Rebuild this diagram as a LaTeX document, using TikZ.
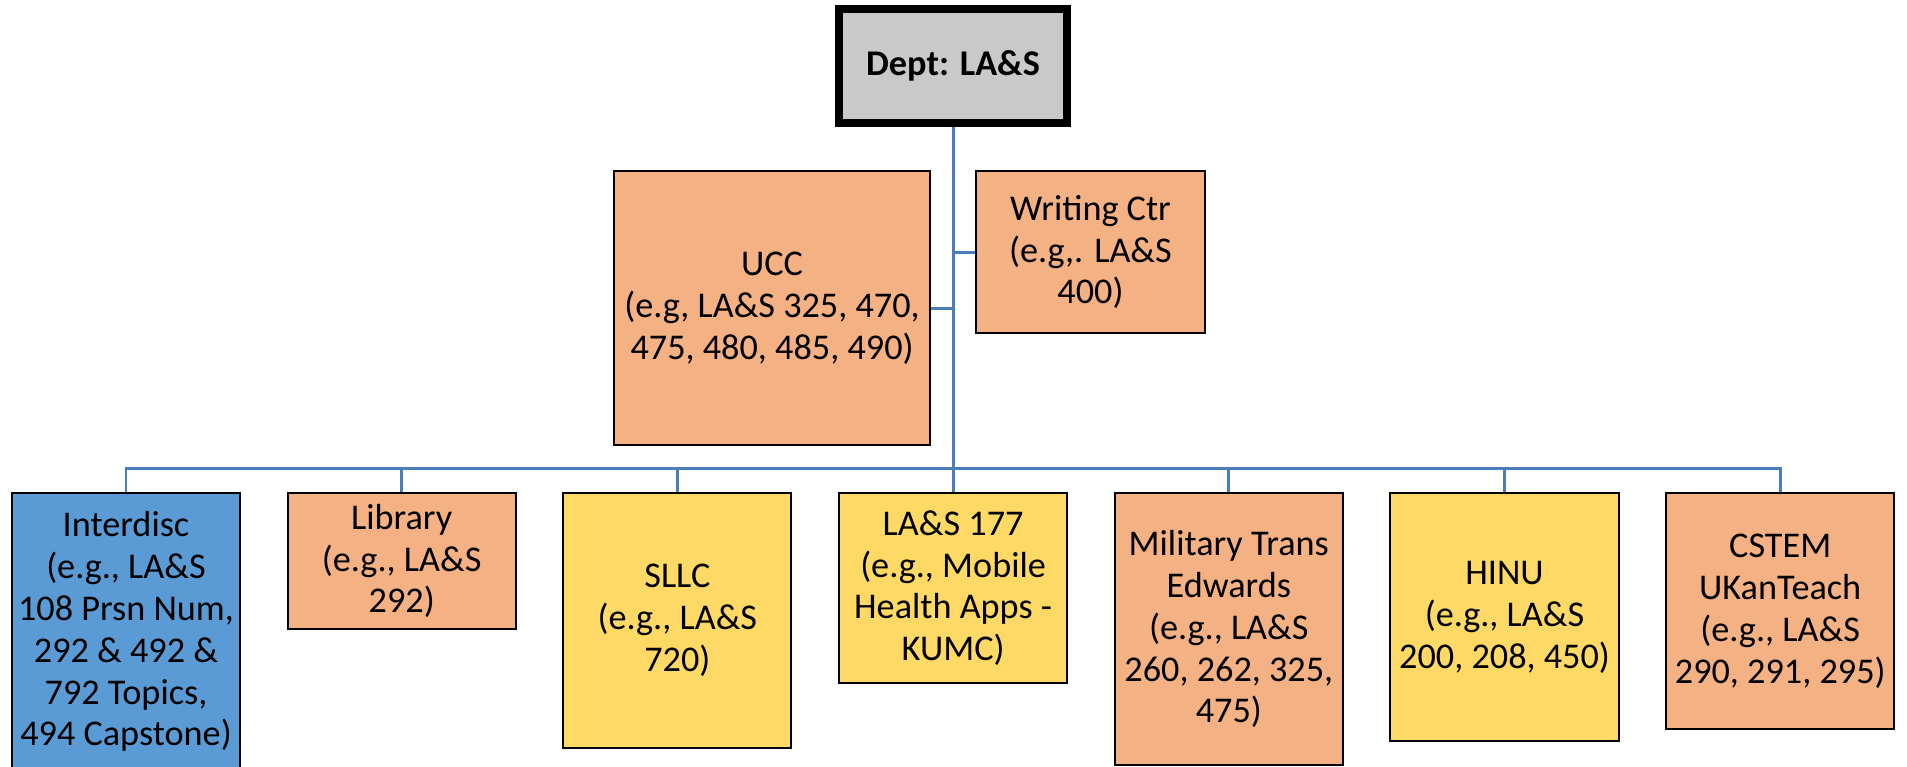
\documentclass[tikz,border=0pt]{standalone}
\usepackage{fontspec}
\setmainfont{Carlito}
\definecolor{cam}{HTML}{F4B183}
\definecolor{vang}{HTML}{FFD966}
\definecolor{lam}{HTML}{5B9BD5}
\definecolor{xam}{HTML}{C9C9C9}
\definecolor{xanh}{HTML}{4A7EBB}
\newcommand{\chu}{\fontsize{10.3pt}{11.9pt}\selectfont}
\tikzset{
  hop/.style={draw=black,line width=0.57pt,align=center,inner sep=0pt,font=\chu},
  noi/.style={draw=xanh,line width=0.85pt}
}
\begin{document}
\begin{tikzpicture}[x=0.01cm,y=-0.01cm]
  \useasboundingbox (0,0) rectangle (1907,766);
  \def\kc{275.7}%khoảng cách cột
  % hàng trên
  \path (953,66) node[hop,fill=xam,line width=2.28pt,minimum width=2.275cm,minimum height=1.14cm,font=\chu\bfseries] (dept) {Dept: LA\&S}
  (772,308) node[hop,fill=cam,minimum width=3.16cm,minimum height=2.73cm] (ucc) {UCC\\(e.g, LA\&S 325, 470,\\475, 480, 485, 490)}
  (1090.5,252) node[hop,fill=cam,minimum width=2.29cm,minimum height=1.62cm] (viet) {Writing Ctr\\(e.g,. LA\&S\\400)};
  % hàng dưới
  \foreach \i/\m/\h/\t in {0/lam/2.77/{Interdisc\\(e.g., LA\&S\\108 Prsn Num,\\292 \& 492 \&\\792 Topics,\\494 Capstone)},
    1/cam/1.36/{Library\\(e.g., LA\&S\\292)},
    2/vang/2.55/{SLLC\\(e.g., LA\&S\\720)},
    3/vang/1.90/{LA\&S 177\\(e.g., Mobile\\Health Apps -\\KUMC)},
    4/cam/2.72/{Military Trans\\Edwards\\(e.g., LA\&S\\260, 262, 325,\\475)},
    5/vang/2.48/{HINU\\(e.g., LA\&S\\200, 208, 450)},
    6/cam/2.36/{CSTEM\\UKanTeach\\(e.g., LA\&S\\290, 291, 295)}}
    \path (126+\kc*\i,492) node[hop,fill=\m,anchor=north,minimum width=2.28cm,minimum height=\h cm] (c\i) {\t};
  % đường nối
  \coordinate (bus) at (953,468);
  \draw[noi] (dept.south)--(bus);
  \foreach \i in {0,...,6} \draw[noi] (c\i.north) |- (bus);
  \draw[noi] (ucc.east)--(ucc.east -| bus) (viet.west)--(viet.west -| bus);
\end{tikzpicture}
\end{document}
